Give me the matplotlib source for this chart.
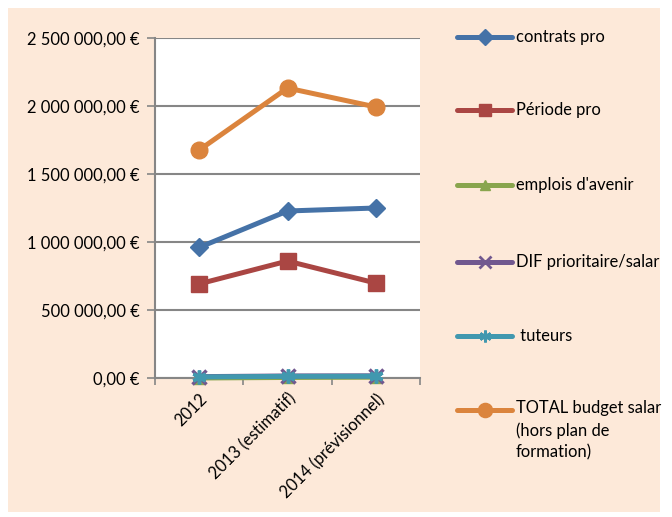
import matplotlib
matplotlib.use("Agg")
import matplotlib.pyplot as plt
from matplotlib.lines import Line2D
from matplotlib.patches import Rectangle
from matplotlib.ticker import FuncFormatter, FixedLocator

categories = ["2012", "2013 (estimatif)", "2014 (prévisionnel)"]
contrats_pro = [960000, 1228000, 1250000]
periode_pro = [692000, 860000, 698000]
emplois_avenir = [0, 4000, 6000]
dif_prioritaire = [10000, 15000, 16000]
tuteurs = [8000, 12000, 13000]
total_budget = [1676000, 2132000, 1993000]

series_names = ["contrats pro", "Période pro", "emplois d'avenir",
                "DIF prioritaire/salar", " tuteurs",
                "TOTAL budget salar\n(hors plan de\nformation)"]
series_values = [contrats_pro, periode_pro, emplois_avenir, dif_prioritaire, tuteurs, total_budget]
colors = ["#4572A7", "#AA4643", "#89A54E", "#71588F", "#4198AF", "#DB843D"]
markers = ["D", "s", "^", "x", (6, 2, 0), "o"]
msizes = [9, 11, 9, 10, 10, 12]

plt.rcParams['font.family'] = ['Lato', 'DejaVu Sans']
FS = 11.9
W, H = 672, 517
fig = plt.figure(figsize=(W / 100, H / 100), dpi=100)
fig.patch.set_facecolor("white")
fig.add_artist(Rectangle((8 / W, 1 - 512 / H), (660 - 8) / W, (512 - 8) / H,
                         transform=fig.transFigure, facecolor="#FDE9D9", edgecolor="none", zorder=0))

ax = fig.add_axes([155 / W, 1 - 378 / H, (420 - 155) / W, (378 - 38) / H])
ax.set_facecolor("white")
ax.set_zorder(1)

x = list(range(len(categories)))
draw_order = [5, 0, 1, 2, 3, 4]
for i in draw_order:
    mk = markers[i]
    ax.plot(x, series_values[i], color=colors[i], lw=3.6, marker=mk, ms=msizes[i],
            mew=2.5 if mk in ("x",) or isinstance(mk, tuple) else 1,
            mec=colors[i], mfc=colors[i], clip_on=False, zorder=3,
            solid_capstyle="round", solid_joinstyle="round")

ax.set_xlim(-0.5, 2.5)
ax.set_ylim(0, 2500000)
ax.set_yticks([0, 500000, 1000000, 1500000, 2000000, 2500000])

def fmt(v, pos):
    s = f"{v:,.2f}".replace(",", " ").replace(".", ",")
    return s + " €"

ax.yaxis.set_major_formatter(FuncFormatter(fmt))
ax.grid(axis="y", color="#868686", lw=1.5)
ax.set_axisbelow(True)
for s in ["top", "right"]:
    ax.spines[s].set_visible(False)
for s in ["left", "bottom"]:
    ax.spines[s].set_color("#868686")
    ax.spines[s].set_linewidth(1.5)

ax.tick_params(axis="y", length=6, width=1.2, color="#868686", labelsize=FS, pad=5)
ax.set_xticks(x)
ax.set_xticklabels(categories, rotation=45, ha="right", rotation_mode="anchor", fontsize=FS)
ax.tick_params(axis="x", which="major", length=0, pad=9)
ax.xaxis.set_minor_locator(FixedLocator([-0.5, 0.5, 1.5, 2.5]))
ax.tick_params(axis="x", which="minor", length=5, width=1.2, color="#868686", direction="out")

# Legend (manual, to match Excel layout)
leg_y = [37, 110, 185, 262, 336, 410]
for i, (name, yy) in enumerate(zip(series_names, leg_y)):
    fy = 1 - yy / H
    mk = markers[i]
    fig.add_artist(Line2D([457 / W, 512 / W], [fy, fy], transform=fig.transFigure,
                          color=colors[i], lw=3.6, solid_capstyle="round", zorder=2))
    fig.add_artist(Line2D([484.5 / W], [fy], transform=fig.transFigure, color=colors[i],
                          marker=mk, ms=msizes[i] * 0.85,
                          mew=2 if mk in ("x",) or isinstance(mk, tuple) else 1,
                          mec=colors[i], mfc=colors[i], zorder=2))
    if "\n" in name:
        fig.text(516 / W, 1 - (yy - 10) / H, name, fontsize=FS, va="top", ha="left",
                 linespacing=1.45, zorder=2)
    else:
        fig.text(516 / W, fy, name, fontsize=FS, va="center", ha="left", zorder=2)

fig.savefig("out.png", dpi=100, facecolor="white")
